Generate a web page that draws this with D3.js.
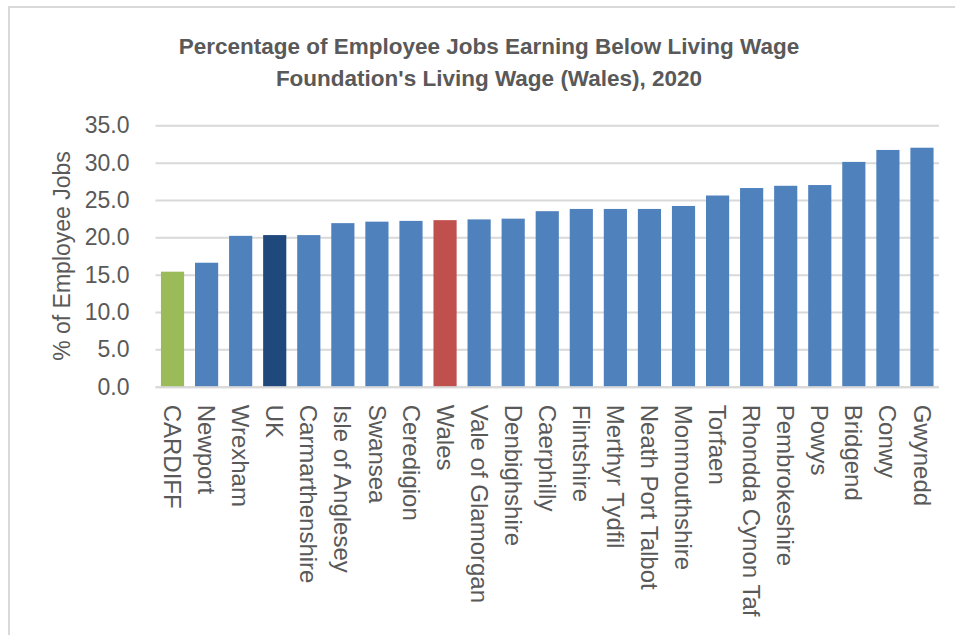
<!DOCTYPE html>
<html>
<head>
<meta charset="utf-8">
<script src="https://cdn.jsdelivr.net/npm/d3@7"></script>
<style>
  body { margin: 0; background: #fff; }
  svg text { font-family: "Liberation Sans", Arial, sans-serif; fill: #595959; }
</style>
</head>
<body>
<div id="chart"></div>
<script>
"use strict"

// chart data
var areas = ["CARDIFF", "Newport", "Wrexham", "UK", "Carmarthenshire", "Isle of Anglesey",
    "Swansea", "Ceredigion", "Wales", "Vale of Glamorgan", "Denbighshire", "Caerphilly",
    "Flintshire", "Merthyr Tydfil", "Neath Port Talbot", "Monmouthshire", "Torfaen",
    "Rhondda Cynon Taf", "Pembrokeshire", "Powys", "Bridgend", "Conwy", "Gwynedd"]
var pct_below = [15.4, 16.6, 20.2, 20.3, 20.3, 21.9,
    22.1, 22.2, 22.3, 22.4, 22.5, 23.5,
    23.8, 23.8, 23.8, 24.2, 25.6,
    26.6, 26.9, 27.0, 30.1, 31.7, 32.0]
var y_ticks = [0, 5, 10, 15, 20, 25, 30, 35]
var title_lines = ["Percentage of Employee Jobs Earning Below Living Wage",
    "Foundation's Living Wage (Wales), 2020"]
var y_title = "% of Employee Jobs"

// highlighted bars
var bar_colours = { "CARDIFF": "#9BBB59", "UK": "#1F497D", "Wales": "#C0504D" }
var default_colour = "#4F81BD"

var settings = {
    width: 955,
    height: 635,
    left: 155.5,
    right: 939,
    top: 125.3,
    bottom: 386.7
}

var svg = d3.select("#chart").append("svg")
    .attr("width", settings.width)
    .attr("height", settings.height)

// chart border
svg.append("rect")
    .attr("x", 9)
    .attr("y", 7)
    .attr("width", 960)
    .attr("height", 700)
    .attr("fill", "none")
    .attr("stroke", "#D9D9D9")
    .attr("stroke-width", 2)

var x = d3.scaleBand()
    .domain(areas)
    .range([settings.left, settings.right])
    .paddingInner(0.32)
    .paddingOuter(0.16)

var y = d3.scaleLinear()
    .domain([0, 35])
    .range([settings.bottom, settings.top])

// gridlines + y labels
var yaxis = d3.axisLeft(y)
    .tickValues(y_ticks)
    .tickSize(-(settings.right - settings.left))
    .tickPadding(26)
    .tickFormat(d3.format(".1f"))

var gy = svg.append("g")
    .attr("transform", "translate(" + settings.left + ",0)")
    .call(yaxis)
gy.select(".domain").remove()
gy.selectAll(".tick line")
    .attr("stroke", "#D9D9D9")
    .attr("stroke-width", 2)
gy.selectAll(".tick text")
    .attr("font-size", 23)
    .attr("fill", "#595959")
    .style("font-family", "Liberation Sans, Arial, sans-serif")

// bars
svg.append("g").selectAll("rect")
    .data(areas)
    .enter()
    .append("rect")
    .attr("x", function(d) { return x(d) })
    .attr("width", x.bandwidth())
    .attr("y", function(d, i) { return y(pct_below[i]) })
    .attr("height", function(d, i) { return y(0) - y(pct_below[i]) })
    .attr("fill", function(d) { return bar_colours[d] || default_colour })

// x axis line
svg.append("line")
    .attr("x1", settings.left)
    .attr("x2", settings.right)
    .attr("y1", y(0) + 0.5)
    .attr("y2", y(0) + 0.5)
    .attr("stroke", "#D9D9D9")
    .attr("stroke-width", 2)

// category labels, rotated to read top to bottom
svg.append("g").selectAll("text")
    .data(areas)
    .enter()
    .append("text")
    .attr("transform", function(d) {
        return "translate(" + (x(d) + x.bandwidth() / 2) + "," + (y(0) + 18) + ") rotate(90)"
    })
    .attr("dy", "0.35em")
    .attr("font-size", 24)
    .text(function(d) { return d })

// y axis title
svg.append("text")
    .attr("transform", "translate(62," + ((settings.top + settings.bottom) / 2) + ") rotate(-90)")
    .attr("text-anchor", "middle")
    .attr("dy", "0.35em")
    .attr("font-size", 23)
    .text(y_title)

// title
var title_y = [54, 86]
svg.append("g").selectAll("text")
    .data(title_lines)
    .enter()
    .append("text")
    .attr("x", 489)
    .attr("y", function(d, i) { return title_y[i] })
    .attr("text-anchor", "middle")
    .attr("font-size", 22.5)
    .attr("font-weight", "bold")
    .text(function(d) { return d })
</script>
</body>
</html>
